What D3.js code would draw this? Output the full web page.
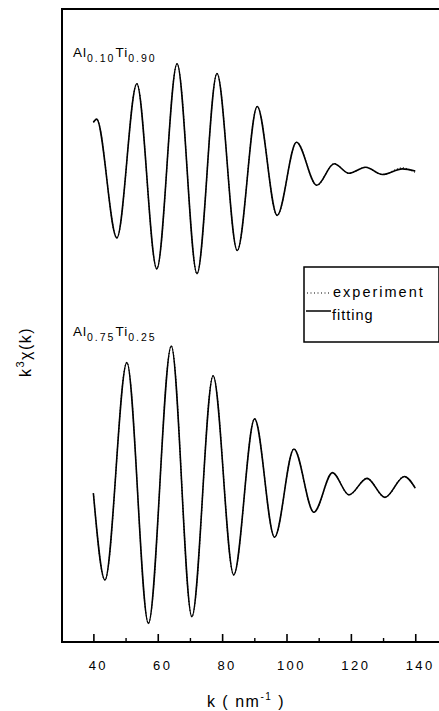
<!DOCTYPE html>
<html>
<head>
<meta charset="utf-8">
<script src="https://cdnjs.cloudflare.com/ajax/libs/d3/7.8.5/d3.min.js"></script>
<style>
  body { margin: 0; background: #fff; }
  svg { display: block; font-family: "Liberation Sans", Arial, sans-serif; }
</style>
</head>
<body>
<svg id="svg1" width="439" height="711"></svg>
<script>
// k values (nm^-1) and k^3 chi(k) (arbitrary units, extrema)
var kTop   = [40, 41, 47.3, 53.5, 59.7, 66, 72.2, 78.4, 84.7, 90.9, 97.1, 103.1, 109.4, 114.8, 119.4, 124.6, 129.8, 136, 140];
var fitTop = [1.52, 1.62, -2.13, 2.74, -3.11, 3.37, -3.26, 3.06, -2.53, 2.02, -1.42, 0.89, -0.47, 0.21, -0.09, 0.10, -0.13, 0.05, -0.02];
var expTop = [1.52, 1.62, -2.13, 2.74, -3.11, 3.37, -3.26, 3.06, -2.53, 2.02, -1.42, 0.89, -0.47, 0.21, -0.09, 0.10, -0.13, 0.08, -0.06];

var kBot   = [40, 43.6, 50.4, 57.1, 64.2, 70.6, 77.2, 83.6, 90.1, 96.3, 102.3, 108.5, 114.3, 119.4, 125, 130.6, 136.6, 140];
var fitBot = [-0.20, -2.94, 3.93, -4.31, 4.45, -4.10, 3.51, -2.78, 2.15, -1.59, 1.20, -0.80, 0.45, -0.25, 0.27, -0.33, 0.33, -0.04];
var expBot = fitBot;

var offsetTop = 4.9;
var offsetBot = -5.1;

var xTicks = [40, 60, 80, 100, 120, 140];
var xMinor = [50, 70, 90, 110, 130];

var svg = d3.select("#svg1");

var plotLeft = 62, plotTop = 9, plotRight = 441, plotBottom = 642;

var scaleX = d3.scaleLinear().domain([30.25, 148]).range([plotLeft, plotRight]);
var scaleY = d3.scaleLinear().domain([-10, 10]).range([plotBottom, plotTop]);

// frame
svg.append("rect")
   .attr("x", plotLeft).attr("y", plotTop)
   .attr("width", plotRight - plotLeft).attr("height", plotBottom - plotTop)
   .attr("fill", "none").attr("stroke", "#000").attr("stroke-width", 2);

// x axis ticks (inside)
var axis = svg.append("g")
   .attr("transform", "translate(0," + plotBottom + ")")
   .call(d3.axisTop(scaleX).tickValues(xTicks).tickSize(8).tickFormat(""));
axis.select(".domain").remove();
axis.selectAll(".tick line").attr("stroke-width", 1.6);

var minor = svg.append("g")
   .attr("transform", "translate(0," + plotBottom + ")")
   .call(d3.axisTop(scaleX).tickValues(xMinor).tickSize(4).tickFormat(""));
minor.select(".domain").remove();
minor.selectAll(".tick line").attr("stroke-width", 1.4);

svg.selectAll(".xlab")
   .data(xTicks)
   .enter()
   .append("text")
   .attr("class", "xlab")
   .attr("x", function(d) { return scaleX(d) + 5; })
   .attr("y", 670)
   .attr("text-anchor", "middle")
   .attr("font-size", 13)
   .attr("letter-spacing", 2.5)
   .text(function(d) { return d; });

// x title
var xt = svg.append("text")
   .attr("x", 246).attr("y", 707)
   .attr("text-anchor", "middle")
   .attr("font-size", 16)
   .attr("letter-spacing", 1.5);
xt.append("tspan").text("k ( nm");
xt.append("tspan").attr("font-size", 10).attr("dy", -7).text("-1");
xt.append("tspan").attr("dy", 7).text(" )");

// y title
var yt = svg.append("text")
   .attr("transform", "translate(31,352) rotate(-90)")
   .attr("text-anchor", "middle")
   .attr("font-size", 16)
   .attr("letter-spacing", 1.5);
yt.append("tspan").text("k");
yt.append("tspan").attr("font-size", 11).attr("dy", -7).text("3");
yt.append("tspan").attr("dy", 7).text("\u03c7(k)");

function makeLine(offset) {
  return d3.line()
    .x(function(d) { return scaleX(d[0]); })
    .y(function(d) { return scaleY(d[1] + offset); })
    .curve(d3.curveMonotoneX);
}

var series = [
  { k: kTop, exp: expTop, fit: fitTop, off: offsetTop },
  { k: kBot, exp: expBot, fit: fitBot, off: offsetBot }
];

series.forEach(function(s) {
  var line = makeLine(s.off);
  svg.append("path")
     .datum(s.k.map(function(k, i) { return [k, s.exp[i]]; }))
     .attr("d", line)
     .attr("fill", "none").attr("stroke", "#000")
     .attr("stroke-width", 1.2).attr("stroke-dasharray", "1,2");
  svg.append("path")
     .datum(s.k.map(function(k, i) { return [k, s.fit[i]]; }))
     .attr("d", line)
     .attr("fill", "none").attr("stroke", "#000")
     .attr("stroke-width", 1.6);
});

// composition labels
function compLabel(x, y, a, b) {
  var t = svg.append("text").attr("x", x).attr("y", y)
     .attr("font-size", 13.5).attr("letter-spacing", 1);
  t.append("tspan").text("Al");
  t.append("tspan").attr("font-size", 10.5).attr("dy", 5).attr("letter-spacing", 2).text(a);
  t.append("tspan").attr("dy", -5).text("Ti");
  t.append("tspan").attr("font-size", 10.5).attr("dy", 5).attr("letter-spacing", 2).text(b);
}
compLabel(73, 57, "0.10", "0.90");
compLabel(73, 336, "0.75", "0.25");

// legend
var lg = svg.append("g");
lg.append("rect")
  .attr("x", 304).attr("y", 267).attr("width", 135).attr("height", 75)
  .attr("fill", "#fff").attr("stroke", "#000").attr("stroke-width", 1.5);
lg.append("line")
  .attr("x1", 307).attr("x2", 330).attr("y1", 293).attr("y2", 293)
  .attr("stroke", "#000").attr("stroke-width", 1.2).attr("stroke-dasharray", "1,2.5");
lg.append("text").attr("x", 333).attr("y", 297).attr("font-size", 14.5)
  .attr("letter-spacing", 2).text("experiment");
lg.append("line")
  .attr("x1", 306).attr("x2", 331).attr("y1", 311).attr("y2", 311)
  .attr("stroke", "#000").attr("stroke-width", 1.5);
lg.append("text").attr("x", 332).attr("y", 320).attr("font-size", 14.5)
  .attr("letter-spacing", 1).text("fitting");
</script>
</body>
</html>
